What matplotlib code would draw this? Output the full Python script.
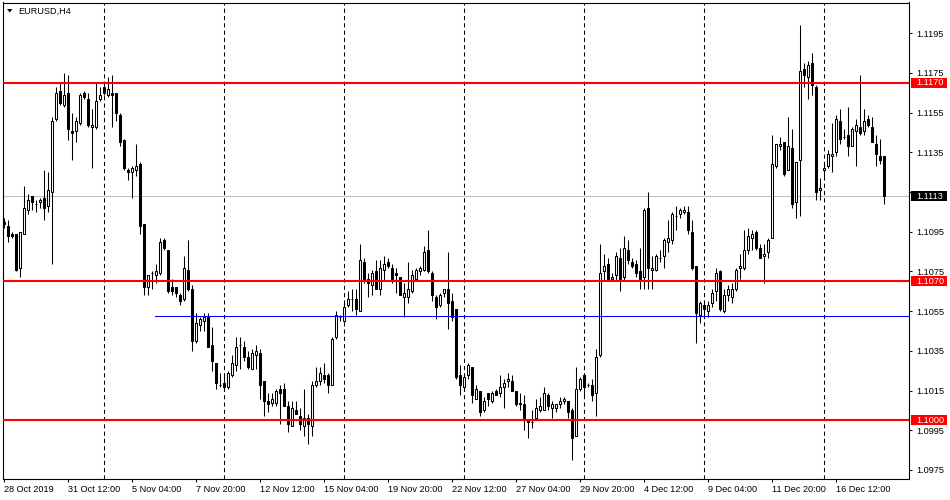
import matplotlib
matplotlib.use("Agg")
import matplotlib.pyplot as plt
from matplotlib.patches import Rectangle, Polygon
from matplotlib import transforms

# H4 EURUSD candles (bar 0 = 28 Oct 2019 20:00)
opens = [1.1100, 1.1098, 1.1094, 1.1094, 1.1077, 1.1094, 1.1106, 1.1113, 1.1109, 1.1110,
         1.1112, 1.1108, 1.1115, 1.1152, 1.1166, 1.1159, 1.1165, 1.1146, 1.1146, 1.1150,
         1.1165, 1.1162, 1.1148, 1.1148, 1.1162, 1.1168, 1.1164, 1.1165, 1.1165, 1.1154,
         1.1141, 1.1126, 1.1125, 1.1126, 1.1129, 1.1099, 1.1067, 1.1074, 1.1073, 1.1074,
         1.1091, 1.1086, 1.1067, 1.1067, 1.1063, 1.1061, 1.1076, 1.1066, 1.1040, 1.1048,
         1.1050, 1.1052, 1.1038, 1.1029, 1.1018, 1.1019, 1.1017, 1.1023, 1.1028, 1.1038,
         1.1037, 1.1032, 1.1026, 1.1033, 1.1034, 1.1020, 1.1010, 1.1009, 1.1009, 1.1016,
         1.1016, 1.1007, 1.0997, 1.1005, 1.1002, 1.0997, 1.1001, 1.0997, 1.1018, 1.1020,
         1.1023, 1.1023, 1.1018, 1.1042, 1.1052, 1.1050, 1.1058, 1.1061, 1.1061, 1.1055,
         1.1080, 1.1071, 1.1068, 1.1075, 1.1066, 1.1076, 1.1080, 1.1077, 1.1074, 1.1072,
         1.1062, 1.1062, 1.1065, 1.1071, 1.1075, 1.1076, 1.1086, 1.1074, 1.1062, 1.1058,
         1.1064, 1.1066, 1.1060, 1.1056, 1.1023, 1.1017, 1.1023, 1.1027, 1.1011, 1.1015,
         1.1005, 1.1014, 1.1010, 1.1015, 1.1014, 1.1017, 1.1020, 1.1020, 1.1015, 1.1008,
         1.1008, 1.1000, 1.0999, 1.1001, 1.1005, 1.1005, 1.1013, 1.1006, 1.1006, 1.1008,
         1.1010, 1.1010, 1.1005, 1.0992, 1.1016, 1.1023, 1.1018, 1.1018, 1.1014, 1.1033,
         1.1075, 1.1079, 1.1071, 1.1073, 1.1082, 1.1072, 1.1086, 1.1080, 1.1079, 1.1075,
         1.1072, 1.1107, 1.1076, 1.1076, 1.1082, 1.1083, 1.1090, 1.1091, 1.1103, 1.1104,
         1.1105, 1.1105, 1.1095, 1.1078, 1.1053, 1.1058, 1.1055, 1.1059, 1.1065, 1.1075,
         1.1055, 1.1063, 1.1062, 1.1066, 1.1077, 1.1077, 1.1086, 1.1092, 1.1095, 1.1087,
         1.1083, 1.1085, 1.1092, 1.1128, 1.1138, 1.1140, 1.1126, 1.1137, 1.1110, 1.1131,
         1.1177, 1.1173, 1.1180, 1.1168, 1.1116, 1.1126, 1.1128, 1.1133, 1.1135, 1.1151,
         1.1143, 1.1144, 1.1138, 1.1146, 1.1148, 1.1146, 1.1152, 1.1148, 1.1139, 1.1133,
         1.1133]
highs = [1.1102, 1.1101, 1.1095, 1.1094, 1.1095, 1.1118, 1.1114, 1.1113, 1.1111, 1.1112,
         1.1126, 1.1125, 1.1153, 1.1168, 1.1170, 1.1175, 1.1174, 1.1155, 1.1153, 1.1165,
         1.1166, 1.1165, 1.1157, 1.1170, 1.1168, 1.1169, 1.1173, 1.1174, 1.1165, 1.1155,
         1.1142, 1.1127, 1.1128, 1.1139, 1.1130, 1.1099, 1.1073, 1.1075, 1.1079, 1.1092,
         1.1092, 1.1086, 1.1071, 1.1067, 1.1064, 1.1083, 1.1091, 1.1068, 1.1054, 1.1052,
         1.1054, 1.1054, 1.1047, 1.1029, 1.1024, 1.1024, 1.1025, 1.1033, 1.1042, 1.1042,
         1.1040, 1.1035, 1.1036, 1.1038, 1.1036, 1.1020, 1.1014, 1.1014, 1.1016, 1.1018,
         1.1019, 1.1010, 1.1010, 1.1010, 1.1006, 1.1016, 1.1003, 1.1020, 1.1027, 1.1027,
         1.1029, 1.1024, 1.1042, 1.1055, 1.1053, 1.1059, 1.1065, 1.1066, 1.1066, 1.1089,
         1.1082, 1.1074, 1.1076, 1.1081, 1.1081, 1.1083, 1.1082, 1.1079, 1.1077, 1.1072,
         1.1069, 1.1080, 1.1076, 1.1077, 1.1078, 1.1088, 1.1096, 1.1075, 1.1063, 1.1064,
         1.1066, 1.1085, 1.1064, 1.1056, 1.1028, 1.1024, 1.1029, 1.1027, 1.1018, 1.1015,
         1.1012, 1.1014, 1.1015, 1.1016, 1.1023, 1.1021, 1.1024, 1.1023, 1.1015, 1.1014,
         1.1013, 1.1000, 1.1005, 1.1011, 1.1012, 1.1017, 1.1014, 1.1010, 1.1008, 1.1012,
         1.1012, 1.1010, 1.1006, 1.1027, 1.1022, 1.1024, 1.1019, 1.1021, 1.1036, 1.1089,
         1.1084, 1.1082, 1.1074, 1.1085, 1.1087, 1.1093, 1.1091, 1.1082, 1.1081, 1.1087,
         1.1107, 1.1115, 1.1083, 1.1084, 1.1086, 1.1092, 1.1101, 1.1105, 1.1108, 1.1107,
         1.1108, 1.1108, 1.1101, 1.1078, 1.1060, 1.1060, 1.1060, 1.1066, 1.1077, 1.1076,
         1.1066, 1.1068, 1.1069, 1.1077, 1.1084, 1.1096, 1.1097, 1.1096, 1.1096, 1.1089,
         1.1089, 1.1092, 1.1144, 1.1139, 1.1143, 1.1140, 1.1153, 1.1147, 1.1130, 1.1199,
         1.1180, 1.1181, 1.1185, 1.1169, 1.1122, 1.1130, 1.1136, 1.1150, 1.1154, 1.1157,
         1.1147, 1.1158, 1.1148, 1.1152, 1.1174, 1.1157, 1.1154, 1.1153, 1.1144, 1.1142,
         1.1133]
lows = [1.1097, 1.1090, 1.1092, 1.1075, 1.1072, 1.1094, 1.1104, 1.1106, 1.1105, 1.1107,
        1.1101, 1.1105, 1.1079, 1.1151, 1.1159, 1.1158, 1.1141, 1.1131, 1.1140, 1.1149,
        1.1162, 1.1148, 1.1127, 1.1147, 1.1161, 1.1164, 1.1163, 1.1148, 1.1151, 1.1138,
        1.1126, 1.1121, 1.1112, 1.1123, 1.1094, 1.1063, 1.1063, 1.1066, 1.1069, 1.1073,
        1.1086, 1.1064, 1.1063, 1.1062, 1.1058, 1.1060, 1.1065, 1.1035, 1.1039, 1.1045,
        1.1045, 1.1037, 1.1025, 1.1016, 1.1017, 1.1017, 1.1016, 1.1022, 1.1025, 1.1026,
        1.1030, 1.1026, 1.1026, 1.1026, 1.1011, 1.1002, 1.1004, 1.1007, 1.1007, 1.0998,
        1.1007, 1.0994, 1.0997, 1.1003, 1.0995, 1.0992, 1.0988, 1.0992, 1.1017, 1.1018,
        1.1019, 1.1014, 1.1018, 1.1041, 1.1050, 1.1050, 1.1057, 1.1055, 1.1053, 1.1055,
        1.1069, 1.1062, 1.1063, 1.1066, 1.1063, 1.1070, 1.1077, 1.1069, 1.1064, 1.1063,
        1.1052, 1.1059, 1.1064, 1.1071, 1.1073, 1.1075, 1.1074, 1.1060, 1.1051, 1.1057,
        1.1062, 1.1046, 1.1050, 1.1021, 1.1013, 1.1016, 1.1021, 1.1009, 1.1011, 1.1002,
        1.1004, 1.1007, 1.1009, 1.1013, 1.1012, 1.1006, 1.1017, 1.1015, 1.1007, 1.1005,
        1.0995, 1.0991, 1.0996, 1.1001, 1.1004, 1.1005, 1.1005, 1.1001, 1.1004, 1.1006,
        1.1008, 1.1001, 1.0980, 1.0992, 1.1015, 1.1013, 1.1017, 1.1010, 1.1002, 1.1032,
        1.1070, 1.1070, 1.1070, 1.1070, 1.1065, 1.1070, 1.1079, 1.1077, 1.1072, 1.1066,
        1.1066, 1.1066, 1.1066, 1.1075, 1.1080, 1.1077, 1.1085, 1.1089, 1.1096, 1.1102,
        1.1104, 1.1094, 1.1076, 1.1039, 1.1049, 1.1052, 1.1052, 1.1057, 1.1060, 1.1055,
        1.1054, 1.1060, 1.1059, 1.1065, 1.1071, 1.1076, 1.1084, 1.1086, 1.1086, 1.1082,
        1.1069, 1.1082, 1.1092, 1.1127, 1.1136, 1.1123, 1.1126, 1.1107, 1.1102, 1.1103,
        1.1168, 1.1162, 1.1164, 1.1111, 1.1111, 1.1122, 1.1127, 1.1125, 1.1133, 1.1139,
        1.1142, 1.1133, 1.1138, 1.1128, 1.1144, 1.1144, 1.1148, 1.1140, 1.1128, 1.1129,
        1.1109]
closes = [1.1099, 1.1093, 1.1093, 1.1076, 1.1095, 1.1107, 1.1111, 1.1110, 1.1109, 1.1111,
          1.1107, 1.1116, 1.1151, 1.1165, 1.1160, 1.1164, 1.1147, 1.1145, 1.1151, 1.1164,
          1.1163, 1.1149, 1.1149, 1.1161, 1.1164, 1.1165, 1.1167, 1.1164, 1.1155, 1.1140,
          1.1127, 1.1125, 1.1127, 1.1128, 1.1098, 1.1067, 1.1073, 1.1074, 1.1075, 1.1090,
          1.1087, 1.1065, 1.1065, 1.1064, 1.1060, 1.1077, 1.1066, 1.1040, 1.1049, 1.1051,
          1.1052, 1.1037, 1.1030, 1.1019, 1.1018, 1.1017, 1.1024, 1.1029, 1.1037, 1.1038,
          1.1032, 1.1027, 1.1034, 1.1035, 1.1018, 1.1010, 1.1008, 1.1011, 1.1015, 1.1014,
          1.1007, 1.0998, 1.1006, 1.1003, 1.0998, 1.1001, 1.0998, 1.1018, 1.1020, 1.1024,
          1.1021, 1.1018, 1.1041, 1.1053, 1.1052, 1.1057, 1.1061, 1.1061, 1.1056, 1.1081,
          1.1070, 1.1069, 1.1074, 1.1066, 1.1077, 1.1079, 1.1078, 1.1071, 1.1073, 1.1063,
          1.1064, 1.1066, 1.1073, 1.1076, 1.1077, 1.1085, 1.1075, 1.1063, 1.1057, 1.1063,
          1.1066, 1.1059, 1.1052, 1.1022, 1.1018, 1.1022, 1.1028, 1.1013, 1.1016, 1.1004,
          1.1010, 1.1011, 1.1014, 1.1013, 1.1017, 1.1019, 1.1021, 1.1015, 1.1008, 1.1009,
          1.1001, 1.0999, 1.0999, 1.1006, 1.1007, 1.1014, 1.1007, 1.1008, 1.1008, 1.1010,
          1.1011, 1.1004, 1.0991, 1.1016, 1.1021, 1.1017, 1.1018, 1.1013, 1.1032, 1.1074,
          1.1078, 1.1071, 1.1072, 1.1083, 1.1071, 1.1087, 1.1081, 1.1078, 1.1074, 1.1071,
          1.1106, 1.1077, 1.1077, 1.1083, 1.1082, 1.1091, 1.1092, 1.1104, 1.1103, 1.1106,
          1.1106, 1.1096, 1.1077, 1.1054, 1.1059, 1.1056, 1.1058, 1.1064, 1.1074, 1.1056,
          1.1063, 1.1066, 1.1066, 1.1076, 1.1078, 1.1086, 1.1093, 1.1094, 1.1087, 1.1082,
          1.1084, 1.1091, 1.1129, 1.1139, 1.1139, 1.1124, 1.1138, 1.1109, 1.1130, 1.1176,
          1.1174, 1.1179, 1.1169, 1.1115, 1.1117, 1.1127, 1.1134, 1.1134, 1.1152, 1.1142,
          1.1143, 1.1138, 1.1147, 1.1149, 1.1145, 1.1151, 1.1149, 1.1140, 1.1134, 1.1131,
          1.1113]

time_tick_bars = [0, 16, 32, 48, 64, 80, 96, 112, 128, 144, 160, 176, 192, 208]
time_tick_labels = ["28 Oct 2019", "31 Oct 12:00", "5 Nov 04:00", "7 Nov 20:00",
                    "12 Nov 12:00", "15 Nov 04:00", "19 Nov 20:00", "22 Nov 12:00",
                    "27 Nov 04:00", "29 Nov 20:00", "4 Dec 12:00", "9 Dec 04:00",
                    "11 Dec 20:00", "16 Dec 12:00"]
price_ticks = [1.0975, 1.0995, 1.1015, 1.1035, 1.1055, 1.1075, 1.1095,
               1.1115, 1.1135, 1.1155, 1.1175, 1.1195]
grid_bars = [25, 55, 85, 115, 145, 175, 205]

red_levels = [1.1170, 1.1070, 1.1000]
blue_level = 1.10525
blue_start_bar = 37.75
bid_price = 1.1113
symbol_title = "EURUSD,H4"

W, H = 950, 500
FONT = "Liberation Sans"
FS = 6.6


def fx(px):
    return px / W


def fy(py):
    return 1 - py / H


fig = plt.figure(figsize=(W / 100, H / 100), dpi=100)
fig.patch.set_facecolor("white")
ax_l, ax_r, ax_t, ax_b = 2.5, 908.5, 2.5, 479.0
ax = fig.add_axes([fx(ax_l), fy(ax_b), fx(ax_r - ax_l), (ax_b - ax_t) / H])
ax.set_facecolor("white")

# price scale: 1.1195 sits at y=33.3px, ~1.985 px per pip
px_per_price = 19850.0
ax.set_ylim(1.1195 - (ax_b - 33.3) / px_per_price, 1.1195 + (33.3 - ax_t) / px_per_price)
ax.set_xlim(-0.25, 226.25)

n = len(opens)
xs = list(range(n))

# grid + bid line behind candles
for gb in grid_bars:
    ax.axvline(gb, color="black", lw=0.75, ls=(0, (4, 3)), zorder=1)
ax.axhline(bid_price, color="#c0c0c0", lw=0.75, zorder=1)

# wicks
ax.vlines(xs, lows, highs, color="black", lw=0.75, zorder=2)

# bodies
for i in xs:
    o, c = opens[i], closes[i]
    bull = c >= o
    ax.bar(i, abs(c - o), bottom=min(o, c), width=0.5,
           facecolor="white" if bull else "black", edgecolor="black",
           linewidth=0.75, zorder=3)

# horizontal levels on top
for lvl in red_levels:
    ax.axhline(lvl, color="#ff0000", lw=1.5, zorder=5)
ax.plot([blue_start_bar, 226.25], [blue_level, blue_level], color="#0000ff", lw=0.75, zorder=5)

for s in ax.spines.values():
    s.set_color("black")
    s.set_linewidth(0.8)

ax.set_xticks(time_tick_bars)
ax.set_xticklabels(time_tick_labels, ha="left", fontfamily=FONT, fontsize=FS)
ax.tick_params(axis="x", direction="out", length=2.5, width=0.75, pad=1.5, colors="black")

# the scale label right under the bid box is hidden by it in the terminal
ax.yaxis.tick_right()
ax.set_yticks(price_ticks)
ax.set_yticklabels(["" if abs(p - bid_price) < 0.0005 else f"{p:.4f}" for p in price_ticks],
                   fontfamily=FONT, fontsize=FS)
ax.tick_params(axis="y", direction="out", length=2.5, width=0.75, pad=3, colors="black")

# price boxes on the scale
trans = transforms.blended_transform_factory(ax.transAxes, ax.transData)
ax_w = ax_r - ax_l
box_x0 = (911 - ax_l) / ax_w
box_w = 36 / ax_w
box_h = 10 / px_per_price
for lvl, col in [(l, "#ff0000") for l in red_levels] + [(bid_price, "black")]:
    ax.add_patch(Rectangle((box_x0, lvl - box_h / 2), box_w, box_h, transform=trans,
                           facecolor=col, edgecolor="none", clip_on=False, zorder=6))
    ax.text((916 - ax_l) / ax_w, lvl, f"{lvl:.4f}", transform=trans, color="white",
            fontfamily=FONT, fontsize=FS, va="center", ha="left", zorder=7, clip_on=False)

# title with the little dropdown triangle
fig.patches.append(Polygon([(fx(7), fy(9)), (fx(12.5), fy(9)), (fx(9.75), fy(12.5))],
                           closed=True, transform=fig.transFigure, facecolor="black",
                           edgecolor="none"))
fig.text(fx(18), fy(11), symbol_title, fontfamily=FONT, fontsize=FS, va="center", ha="left")

fig.savefig("out.png", dpi=100)
